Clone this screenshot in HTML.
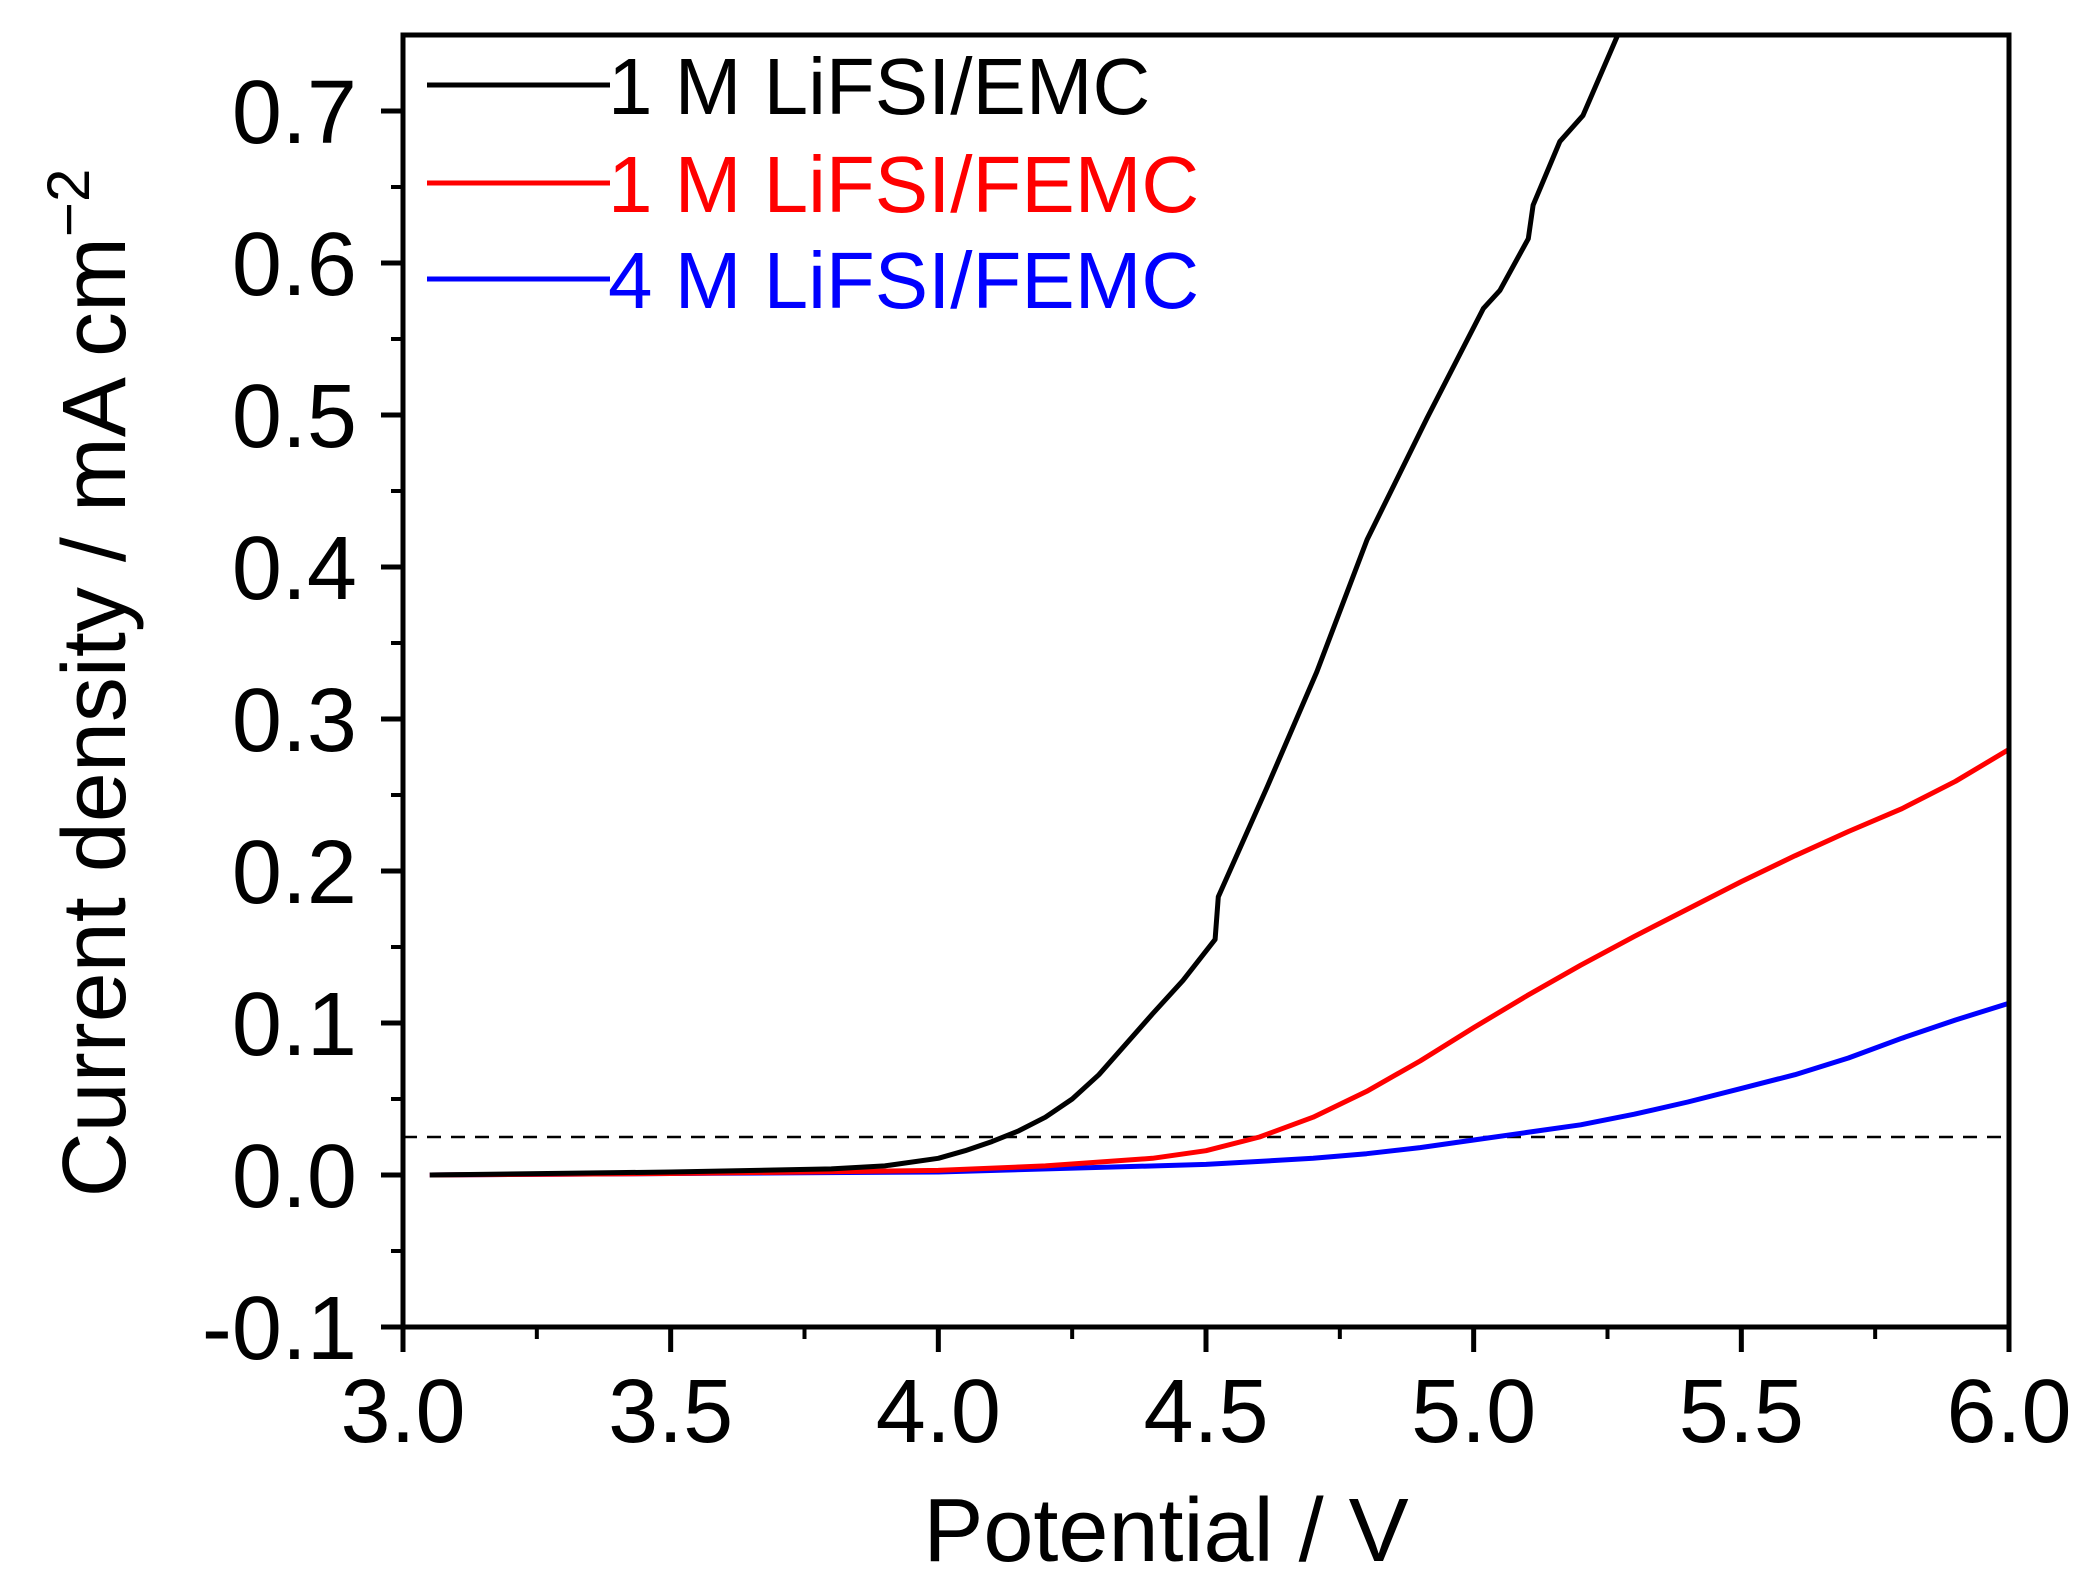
<!DOCTYPE html>
<html><head><meta charset="utf-8"><style>
html,body{margin:0;padding:0;background:#fff;}
svg{display:block;font-family:"Liberation Sans",Arial,sans-serif;}
</style></head><body>
<svg id="chart" width="2091" height="1593" viewBox="0 0 2091 1593">
<g id="plot"></g>
</svg>
<script>
const xTicks=[3.0,3.5,4.0,4.5,5.0,5.5,6.0];
const xTickLabels=["3.0","3.5","4.0","4.5","5.0","5.5","6.0"];
const yTicks=[-0.1,0.0,0.1,0.2,0.3,0.4,0.5,0.6,0.7];
const yTickLabels=["-0.1","0.0","0.1","0.2","0.3","0.4","0.5","0.6","0.7"];
const seriesNames=["1 M LiFSI/EMC","1 M LiFSI/FEMC","4 M LiFSI/FEMC"];
const seriesColors=["#000000","#ff0000","#0000ff"];
const emcV=[3.05,3.5,3.8,3.9,4.0,4.05,4.1,4.15,4.2,4.25,4.3,4.35,4.4,4.457,4.517,4.523,4.614,4.707,4.801,4.913,5.018,5.049,5.102,5.111,5.161,5.204,5.268];
const emcI=[0,0.002,0.004,0.006,0.011,0.016,0.022,0.029,0.038,0.05,0.066,0.086,0.106,0.128,0.155,0.183,0.255,0.331,0.418,0.498,0.57,0.582,0.616,0.638,0.68,0.697,0.749];
const femcV=[3.05,3.5,4.0,4.2,4.4,4.5,4.6,4.7,4.8,4.9,5.0,5.1,5.2,5.3,5.4,5.5,5.6,5.7,5.8,5.9,6.0];
const femcI=[0,0.001,0.003,0.006,0.011,0.016,0.025,0.038,0.055,0.075,0.097,0.118,0.138,0.157,0.175,0.193,0.21,0.226,0.241,0.259,0.28];
const hcV=[3.05,3.5,4.0,4.5,4.7,4.8,4.9,5.0,5.1,5.2,5.3,5.4,5.5,5.6,5.7,5.8,5.9,6.0];
const hcI=[0,0.001,0.002,0.007,0.011,0.014,0.018,0.023,0.028,0.033,0.04,0.048,0.057,0.066,0.077,0.09,0.102,0.113];
const refLevel=0.025;

const X0=403,X1=2009,Y0=1327,Y1=35,xmin=3,xmax=6,ymin=-0.1,ymax=0.75;
const xs=v=>X0+(v-xmin)/(xmax-xmin)*(X1-X0);
const ys=v=>Y0-(v-ymin)/(ymax-ymin)*(Y0-Y1);
const NS="http://www.w3.org/2000/svg";
const g=document.getElementById('plot');
function mk(t,a,p){const e=document.createElementNS(NS,t);for(const k in a)e.setAttribute(k,a[k]);(p||g).appendChild(e);return e;}

let dl=mk('line',{x1:X0,x2:X1,y1:ys(refLevel),y2:ys(refLevel),stroke:'#000','stroke-width':2.5,'stroke-dasharray':'14,10'});



const sets=[[emcV,emcI],[femcV,femcI],[hcV,hcI]];
const order=[2,1,0];
order.forEach(i=>{
  const [vv,ii]=sets[i];
  const d=vv.map((v,k)=>(k?'L':'M')+xs(v).toFixed(1)+','+ys(ii[k]).toFixed(1)).join(' ');
  const p=mk('path',{d:d,fill:'none',stroke:seriesColors[i],'stroke-width':5,'stroke-linejoin':'round'});
  
  
});

const fr=mk('rect',{x:X0,y:Y1,width:X1-X0,height:Y0-Y1,fill:'none',stroke:'#000','stroke-width':5});



xTicks.forEach((v,k)=>{
  const t=mk('line',{x1:xs(v),x2:xs(v),y1:Y0,y2:Y0+25,stroke:'#000','stroke-width':5});
  
  
  if(k<xTicks.length-1){const m=(v+xTicks[k+1])/2;
    const mt=mk('line',{x1:xs(m),x2:xs(m),y1:Y0,y2:Y0+12,stroke:'#000','stroke-width':4});
    
    }
  const tl=mk('text',{x:xs(v),y:1442,'font-size':90,'text-anchor':'middle',fill:'#000'});
  tl.textContent=xTickLabels[k];
  
  
});
yTicks.forEach((v,k)=>{
  const t=mk('line',{x1:X0-22,x2:X0,y1:ys(v),y2:ys(v),stroke:'#000','stroke-width':5});
  
  
  const m=v+0.05;
  if(m<ymax){const mt=mk('line',{x1:X0-12,x2:X0,y1:ys(m),y2:ys(m),stroke:'#000','stroke-width':4});
    
    }
  const tl=mk('text',{x:357,y:ys(v)+32,'font-size':90,'text-anchor':'end',fill:'#000'});
  tl.textContent=yTickLabels[k];
  
  
});

const xt=mk('text',{x:1166,y:1561,'font-size':90,'text-anchor':'middle',fill:'#000'});
xt.textContent='Potential / V';


const yt=mk('text',{x:0,y:0,'font-size':90,'text-anchor':'middle',fill:'#000',transform:'translate(125,683) rotate(-90)'});
yt.innerHTML='Current density / mA cm<tspan dy="-36" font-size="60">−2</tspan>';



const ly=[85,183,279];
seriesNames.forEach((n,i)=>{
  const l=mk('line',{x1:427,x2:610,y1:ly[i],y2:ly[i],stroke:seriesColors[i],'stroke-width':5});
  
  
  const t=mk('text',{x:608,y:ly[i]+29,'font-size':80,fill:seriesColors[i]});
  t.textContent=n;
  
  
});
</script>
</body></html>
